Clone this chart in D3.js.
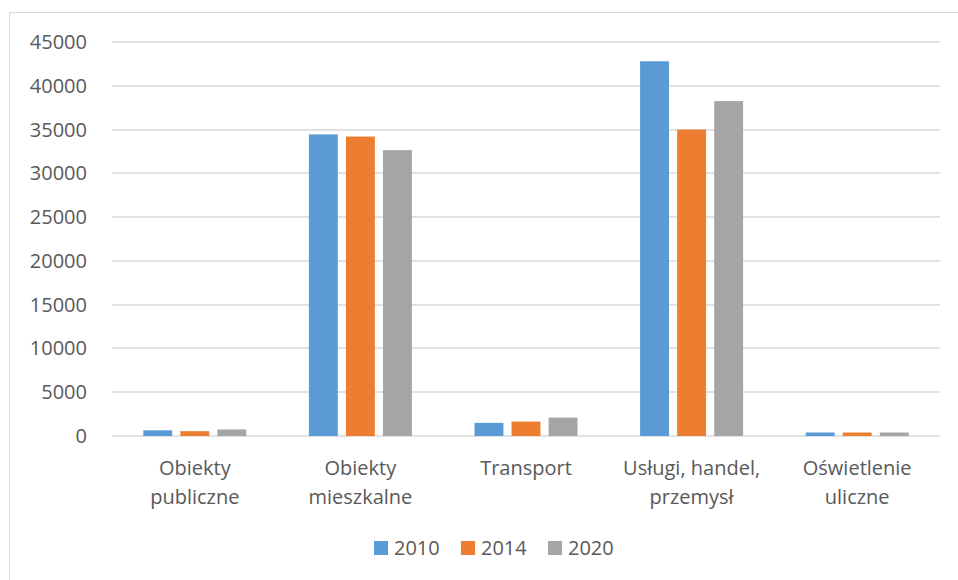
<!DOCTYPE html>
<html>
<head>
<meta charset="utf-8">
<script src="https://cdn.jsdelivr.net/npm/d3@7"></script>
<style>
  body { margin: 0; background: #fff; }
  text { font-family: "Open Sans", sans-serif; fill: #595959; }
</style>
</head>
<body>
<svg id="chart" width="958" height="580"></svg>
<script>
// data
var categories = [["Obiekty", "publiczne"], ["Obiekty", "mieszkalne"], ["Transport"], ["Usługi, handel,", "przemysł"], ["Oświetlenie", "uliczne"]];
var years = ["2010", "2014", "2020"];
var colors = ["#5b9bd5", "#ed7d31", "#a5a5a5"];
var v2010 = [650, 34450, 1500, 42800, 400];
var v2014 = [550, 34200, 1650, 35000, 400];
var v2020 = [750, 32650, 2100, 38250, 400];
var ticks = [0, 5000, 10000, 15000, 20000, 25000, 30000, 35000, 40000, 45000];

var series = [v2010, v2014, v2020];

var svg = d3.select("#chart");

// outer frame
svg.append("rect")
  .attr("x", 9.5).attr("y", 12.5)
  .attr("width", 960).attr("height", 580)
  .attr("fill", "none")
  .attr("stroke", "#d9d9d9");

// plot area (don't call it "top", clashes with window.top)
var plotL = 112, plotR = 940, plotT = 42, plotB = 436;

var x = d3.scaleBand()
  .domain(d3.range(categories.length))
  .range([plotL, plotR]);

var x1 = d3.scaleBand()
  .domain(d3.range(years.length))
  .range([0, 103])
  .paddingInner(0.22);

var y = d3.scaleLinear()
  .domain([0, 45000])
  .range([plotB, plotT]);

// gridlines
svg.append("g")
  .selectAll("line")
  .data(ticks)
  .join("line")
  .attr("x1", plotL).attr("x2", plotR)
  .attr("y1", function(d){ return Math.round(y(d)); })
  .attr("y2", function(d){ return Math.round(y(d)); })
  .attr("stroke", "#d9d9d9")
  .attr("stroke-width", 1.5);

// y tick labels
svg.append("g")
  .selectAll("text")
  .data(ticks)
  .join("text")
  .attr("x", 87)
  .attr("y", function(d){ return y(d); })
  .attr("dy", "0.35em")
  .attr("text-anchor", "end")
  .attr("font-size", 20)
  .text(function(d){ return d; });

// bars
var groups = svg.append("g")
  .selectAll("g")
  .data(categories)
  .join("g")
  .attr("transform", function(d, i){ return "translate(" + (x(i) + (x.bandwidth() - 103) / 2) + ",0)"; });

groups.selectAll("rect")
  .data(function(d, i){ return series.map(function(s, j){ return {k: j, v: s[i]}; }); })
  .join("rect")
  .attr("x", function(d){ return x1(d.k); })
  .attr("width", x1.bandwidth())
  .attr("y", function(d){ return y(d.v); })
  .attr("height", function(d){ return plotB - y(d.v); })
  .attr("fill", function(d){ return colors[d.k]; });

// category labels
var labels = svg.append("g")
  .selectAll("text")
  .data(categories)
  .join("text")
  .attr("x", function(d, i){ return x(i) + x.bandwidth() / 2; })
  .attr("y", 475)
  .attr("text-anchor", "middle")
  .attr("font-size", 20);

labels.selectAll("tspan")
  .data(function(d){ return d; })
  .join("tspan")
  .attr("x", function(){ return this.parentNode.getAttribute("x"); })
  .attr("dy", function(d, i){ return i == 0 ? 0 : 29; })
  .text(function(d){ return d; });

// legend
var legend = svg.append("g")
  .selectAll("g")
  .data(years)
  .join("g")
  .attr("transform", function(d, i){ return "translate(" + (374 + i * 87) + ",541)"; });

legend.append("rect")
  .attr("width", 14).attr("height", 14)
  .attr("fill", function(d, i){ return colors[i]; });

legend.append("text")
  .attr("x", 20).attr("y", 7)
  .attr("dy", "0.35em")
  .attr("font-size", 20)
  .text(function(d){ return d; });
</script>
</body>
</html>
